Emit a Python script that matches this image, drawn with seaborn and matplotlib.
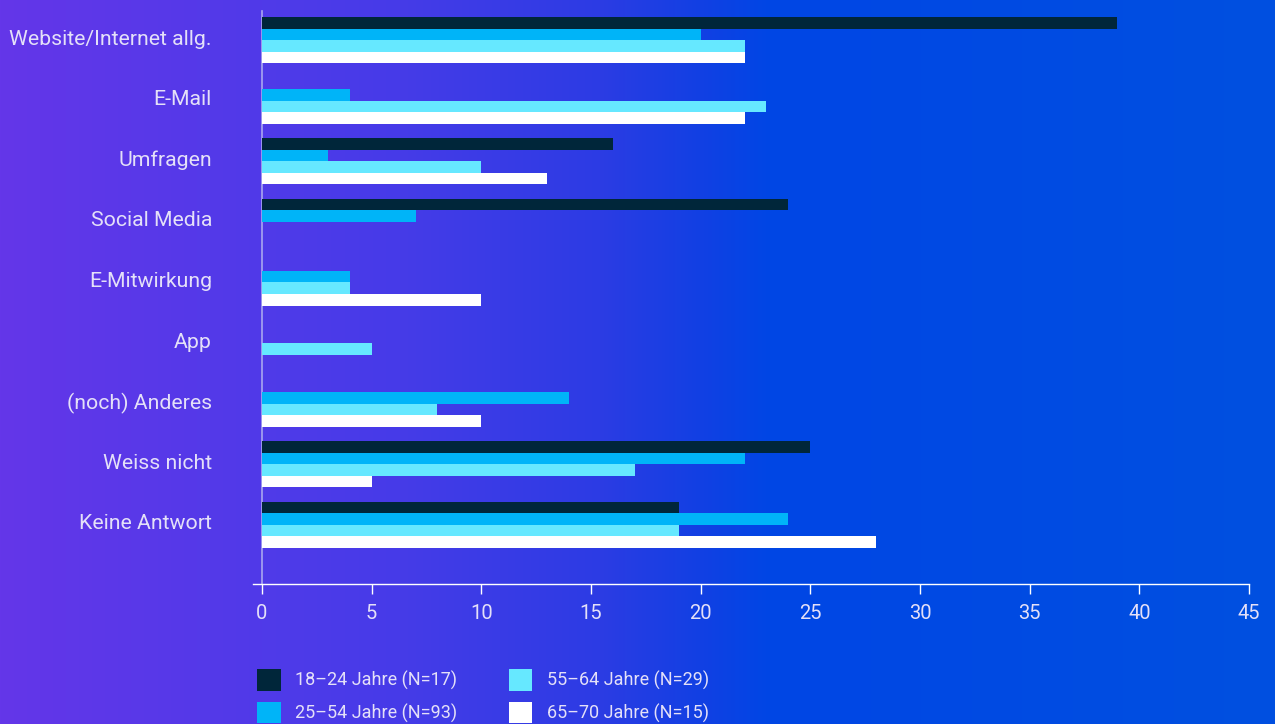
import numpy as np
import pandas as pd
import matplotlib
matplotlib.use("Agg")
import matplotlib.pyplot as plt
import matplotlib.transforms as mtransforms
from matplotlib.patches import Patch
import seaborn as sns

categories = ["Website/Internet allg.", "E-Mail", "Umfragen", "Social Media",
              "E-Mitwirkung", "App", "(noch) Anderes", "Weiss nicht", "Keine Antwort"]
groups = ["18–24 Jahre (N=17)", "25–54 Jahre (N=93)", "55–64 Jahre (N=29)", "65–70 Jahre (N=15)"]
v_18_24 = [39, 0, 16, 24, 0, 0, 0, 25, 19]
v_25_54 = [20, 4, 3, 7, 4, 0, 14, 22, 24]
v_55_64 = [22, 23, 10, 0, 4, 5, 8, 17, 19]
v_65_70 = [22, 22, 13, 0, 10, 0, 10, 5, 28]
colors = ["#00263a", "#00b4f8", "#66e8ff", "#ffffff"]
xticks = [0, 5, 10, 15, 20, 25, 30, 35, 40, 45]

rows = []
for g, vals in zip(groups, [v_18_24, v_25_54, v_55_64, v_65_70]):
    for c, v in zip(categories, vals):
        rows.append({"Kategorie": c, "Gruppe": g, "Wert": v})
df = pd.DataFrame(rows)

sns.set_theme(style="white")
plt.rcParams['font.family'] = ['Roboto', 'DejaVu Sans']
plt.rcParams['font.weight'] = 'normal'
txt = "#e4e0f8"

fig = plt.figure(figsize=(12.75, 7.24), dpi=100)

# background gradient
bg = fig.add_axes([0, 0, 1, 1], zorder=-10)
xs = np.array([0, 262, 400, 600, 700, 770, 1275]) / 1275
stops = np.array([(100, 54, 233), (80, 58, 232), (70, 59, 232), (44, 60, 228),
                  (18, 64, 227), (0, 70, 229), (0, 80, 224)]) / 255
xx = np.linspace(0, 1, 1275)
grad = np.stack([np.interp(xx, xs, stops[:, k]) for k in range(3)], axis=-1)
bg.imshow(grad[None, :, :], aspect='auto', extent=[0, 1, 0, 1])
bg.set_axis_off()

ax = fig.add_axes([253 / 1275, 140 / 724, 996 / 1275, 573 / 724])
ax.set_facecolor("none")
sns.barplot(data=df, y="Kategorie", x="Wert", hue="Gruppe", palette=colors,
            orient="h", width=0.76, gap=0, saturation=1, ax=ax, legend=False,
            order=categories, hue_order=groups, linewidth=0, edgecolor="none")
ax.set_xlim(-0.41, 45)
ax.set_ylim(8.975, -0.479)
ax.set_xlabel("")
ax.set_ylabel("")
ax.set_xticks(xticks)
ax.set_xticklabels([str(t) for t in xticks])
for s in ["top", "right"]:
    ax.spines[s].set_visible(False)
ax.spines["left"].set_position(("data", 0))
ax.spines["left"].set_color("#a9a6f0")
ax.spines["left"].set_linewidth(1.2)
ax.spines["left"].set_zorder(0.5)
ax.spines["bottom"].set_color("#ffffff")
ax.spines["bottom"].set_linewidth(1.0)
ax.tick_params(axis="x", direction="out", length=7.2, width=1, color="#ffffff",
               labelcolor=txt, labelsize=14.5, pad=7, bottom=True)
ax.tick_params(axis="y", length=0, labelcolor=txt, labelsize=15.3, pad=36)
shift = mtransforms.ScaledTranslation(0, 3 / 100, fig.dpi_scale_trans)
for lab in ax.get_yticklabels():
    lab.set_transform(lab.get_transform() + shift)

handles = [Patch(facecolor=c, edgecolor="none", label=g) for c, g in zip(colors, groups)]
leg = fig.legend(handles=handles, loc="upper left", bbox_to_anchor=(250 / 1275, 1 - 662 / 724),
                 ncol=2, frameon=False, fontsize=13, handlelength=1.3, handleheight=1.45,
                 handletextpad=0.8, labelspacing=0.62, columnspacing=2.85, borderaxespad=0)
for t in leg.get_texts():
    t.set_color(txt)

fig.savefig("out.png", dpi=100)
